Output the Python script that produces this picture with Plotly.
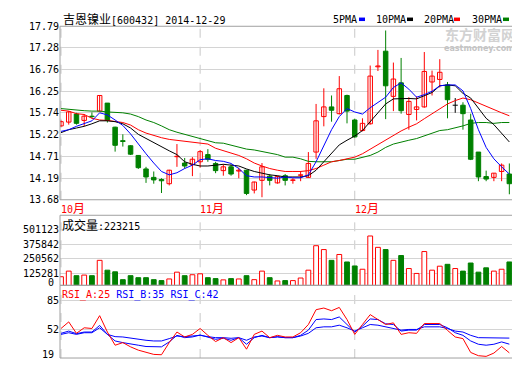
import plotly.graph_objects as go

# ---------------- data ----------------
stock_name = "吉恩镍业"
stock_code = "600432"
last_date = "2014-12-29"

day_index = list(range(59))
opens = [15.43, 15.52, 15.71, 15.56, 15.66, 15.78, 15.97, 15.40, 15.08, 14.96,
         14.73, 14.41, 14.21, 14.16, 14.06, 14.70, 14.55, 14.51, 14.58, 14.75,
         14.54, 14.37, 14.46, 14.36, 14.38, 13.91, 14.14, 14.24, 14.08, 14.25,
         14.14, 14.26, 14.21, 14.81, 15.65, 15.88, 15.72, 16.15, 15.57, 15.32,
         15.48, 16.83, 17.20, 16.13, 16.45, 15.70, 15.82, 15.88, 16.47, 16.53,
         16.40, 15.92, 15.92, 15.57, 14.81, 14.23, 14.21, 14.35, 14.29]
highs = [15.56, 15.78, 15.74, 15.71, 15.75, 16.16, 15.97, 15.41, 15.23, 14.97,
         14.74, 14.46, 14.35, 14.19, 14.39, 15.00, 14.67, 14.69, 14.86, 14.88,
         14.58, 14.52, 14.52, 14.44, 14.39, 14.11, 14.55, 14.29, 14.25, 14.29,
         14.19, 14.36, 14.81, 15.95, 16.32, 16.15, 16.61, 16.17, 15.60, 15.61,
         16.86, 17.23, 17.69, 16.93, 17.04, 16.11, 16.13, 17.18, 16.74, 17.01,
         16.47, 16.09, 15.99, 15.72, 14.81, 14.37, 14.31, 14.54, 14.54]
lows = [15.41, 15.46, 15.46, 15.42, 15.61, 15.77, 15.51, 14.82, 14.94, 14.74,
        14.41, 14.08, 14.06, 13.84, 14.02, 14.46, 14.42, 14.24, 14.44, 14.58,
        14.31, 14.25, 14.25, 14.19, 13.79, 13.83, 13.74, 14.02, 14.06, 14.02,
        14.06, 14.12, 14.20, 14.65, 15.42, 15.53, 15.70, 15.49, 15.15, 15.30,
        15.46, 16.73, 15.59, 15.78, 15.72, 15.34, 15.56, 15.86, 16.15, 16.34,
        15.61, 15.74, 15.34, 14.62, 14.12, 14.12, 14.12, 14.12, 13.81]
closes = [15.53, 15.76, 15.49, 15.66, 15.65, 16.15, 15.56, 14.97, 15.06, 14.76,
          14.44, 14.22, 14.15, 14.13, 14.38, 14.71, 14.48, 14.64, 14.82, 14.64,
          14.37, 14.46, 14.29, 14.38, 13.83, 14.10, 14.46, 14.14, 14.23, 14.14,
          14.15, 14.27, 14.54, 15.55, 15.88, 15.80, 16.31, 15.78, 15.17, 15.49,
          16.61, 16.85, 16.38, 16.54, 15.79, 16.01, 15.88, 16.72, 16.61, 16.70,
          16.05, 15.92, 15.72, 14.64, 14.22, 14.17, 14.31, 14.50, 14.06]

ma5 = [15.30, 15.34, 15.42, 15.48, 15.55, 15.74, 15.69, 15.57, 15.44, 15.24,
       15.00, 14.77, 14.55, 14.35, 14.27, 14.32, 14.42, 14.50, 14.63, 14.65,
       14.61, 14.59, 14.54, 14.42, 14.25, 14.22, 14.22, 14.21, 14.19, 14.22,
       14.20, 14.20, 14.27, 14.58, 14.96, 15.34, 15.65, 15.84, 15.76, 15.71,
       15.86, 15.99, 16.11, 16.34, 16.45, 16.30, 16.11, 16.17, 16.25, 16.38,
       16.40, 16.40, 16.26, 15.84, 15.34, 14.92, 14.65, 14.46, 14.29]
ma10 = [15.27, 15.34, 15.38, 15.42, 15.48, 15.55, 15.55, 15.53, 15.48, 15.38,
        15.23, 15.13, 15.02, 14.92, 14.84, 14.75, 14.58, 14.52, 14.48, 14.48,
        14.50, 14.52, 14.50, 14.48, 14.41, 14.35, 14.31, 14.27, 14.25, 14.22,
        14.22, 14.22, 14.25, 14.38, 14.58, 14.77, 14.98, 15.09, 15.19, 15.32,
        15.53, 15.76, 15.95, 16.07, 16.08, 16.08, 16.07, 16.15, 16.22, 16.38,
        16.40, 16.38, 16.20, 16.09, 15.84, 15.61, 15.46, 15.26, 15.05]
ma20 = [15.80, 15.78, 15.72, 15.70, 15.61, 15.57, 15.56, 15.53, 15.51, 15.45,
        15.34, 15.26, 15.20, 15.15, 15.11, 15.09, 15.07, 15.05, 15.02, 15.00,
        14.90, 14.84, 14.78, 14.73, 14.65, 14.55, 14.48, 14.42, 14.38, 14.35,
        14.35, 14.35, 14.37, 14.42, 14.50, 14.58, 14.61, 14.65, 14.69, 14.77,
        14.88, 15.00, 15.10, 15.21, 15.31, 15.40, 15.48, 15.60, 15.72, 15.85,
        15.95, 16.03, 16.09, 16.05, 15.97, 15.90, 15.81, 15.74, 15.67]
ma30 = [15.84, 15.82, 15.80, 15.79, 15.78, 15.78, 15.76, 15.75, 15.74, 15.71,
        15.65, 15.57, 15.51, 15.43, 15.34, 15.28, 15.23, 15.19, 15.13, 15.09,
        15.03, 15.02, 14.97, 14.92, 14.88, 14.86, 14.82, 14.79, 14.75, 14.69,
        14.69, 14.65, 14.59, 14.58, 14.58, 14.58, 14.61, 14.64, 14.64, 14.68,
        14.73, 14.81, 14.92, 15.00, 15.05, 15.09, 15.13, 15.19, 15.25, 15.32,
        15.34, 15.38, 15.43, 15.49, 15.51, 15.51, 15.49, 15.51, 15.51]

volume = [97000, 145000, 106000, 111000, 106000, 237000, 153000, 139000, 72000, 106000,
          89000, 89000, 72000, 64000, 78000, 136000, 106000, 114000, 122000, 89000,
          81000, 70000, 81000, 78000, 106000, 72000, 145000, 89000, 61000, 64000,
          64000, 86000, 153000, 362000, 329000, 237000, 287000, 223000, 189000, 161000,
          445000, 348000, 329000, 237000, 278000, 167000, 125000, 312000, 153000, 187000,
          203000, 167000, 145000, 214000, 136000, 173000, 145000, 161000, 223215]

rsi_a = [53.1, 60.7, 47.5, 53.9, 53.1, 67.9, 49.0, 33.8, 36.8, 31.9,
         28.1, 25.4, 23.2, 22.8, 36.8, 49.0, 43.3, 46.3, 53.1, 45.2,
         38.0, 42.5, 36.8, 42.5, 29.2, 46.3, 50.1, 42.5, 45.2, 43.3,
         43.3, 48.2, 57.7, 74.8, 76.7, 73.6, 77.4, 63.4, 46.3, 57.7,
         69.1, 63.4, 57.7, 59.6, 46.3, 48.2, 47.5, 58.8, 58.5, 58.8,
         50.9, 43.3, 41.4, 25.4, 21.7, 20.9, 24.7, 32.3, 25.0]
rsi_b = [47.5, 50.1, 47.1, 49.0, 49.0, 56.6, 46.3, 38.7, 36.8, 34.9,
         33.8, 32.3, 31.9, 31.9, 37.6, 45.2, 42.5, 43.3, 45.6, 43.3,
         40.6, 41.8, 39.5, 42.5, 34.9, 42.5, 45.2, 42.5, 43.7, 42.5,
         42.5, 45.2, 51.2, 63.4, 64.1, 63.4, 66.4, 57.7, 49.0, 55.8,
         64.1, 63.4, 58.5, 57.7, 50.1, 51.2, 51.2, 57.7, 57.7, 57.7,
         53.9, 48.2, 45.2, 38.7, 34.9, 33.8, 34.9, 37.6, 35.0]
rsi_c = [46.3, 48.2, 46.3, 48.2, 48.2, 53.9, 46.3, 43.7, 43.3, 41.8,
         40.6, 39.5, 38.7, 38.7, 41.4, 44.4, 43.7, 44.4, 45.2, 43.7,
         42.5, 42.5, 41.8, 42.5, 39.5, 43.3, 44.4, 42.5, 43.3, 42.5,
         42.5, 44.4, 47.5, 53.9, 55.0, 55.0, 56.9, 53.9, 50.1, 53.9,
         57.7, 56.9, 55.0, 53.9, 51.2, 52.0, 52.0, 55.0, 55.0, 55.0,
         53.1, 50.1, 49.0, 45.2, 42.5, 42.5, 42.5, 42.5, 42.0]

month_labels = ["10月", "11月", "12月"]
month_index = [0, 18, 38]
price_ticks = [13.68, 14.19, 14.71, 15.22, 15.74, 16.25, 16.76, 17.28, 17.79]
volume_ticks = [0, 125281, 250562, 375842, 501123]
rsi_ticks = [19, 52, 85]
ma_names = ["5PMA", "10PMA", "20PMA", "30PMA"]

# ---------------- layout constants (page pixels) ----------------
OFF = 8                     # default page margin the browser puts around the figure
W, H = 520 - OFF, 365 - OFF  # figure size so that it fits the window exactly
XL, XR = 60, 519
MAIN_T, MAIN_B = 21.7, 200.7
VOL_T, VOL_B = 216.7, 289.0
RSI_T, RSI_B = 289.0, 364.0
VOL_HI_PX, VOL_LO_PX = 231.3, 276.7     # pixel rows of the 501123 / 125281 lines
RSI_HI_PX, RSI_LO_PX = 305.0, 364.0     # pixel rows of 85 / 19

RED, GREEN, BLUE, BLACK = "#FF0000", "#008000", "#0000FF", "#000000"
GRID = "#D4D4D4"
BORDER = "#A0A0A0"
MONO = "DejaVu Sans Mono"
CJK = "Noto Sans CJK SC"


def PX(x):
    return (x - OFF) / W


def PY(y):
    return 1 - (y - OFF) / H


fig = go.Figure()

n = len(closes)
kind = []
for o, c in zip(opens, closes):
    if c > o + 0.004:
        kind.append("up")
    elif c < o - 0.004:
        kind.append("down")
    else:
        kind.append("flat")
col_of = {"up": RED, "down": GREEN, "flat": BLACK}

# wicks
for k in ["up", "down", "flat"]:
    xs, ys = [], []
    for i in range(n):
        if kind[i] != k:
            continue
        xs += [day_index[i], day_index[i], None]
        ys += [lows[i], highs[i], None]
        if k == "flat":
            xs += [day_index[i] - 0.33, day_index[i] + 0.33, None]
            ys += [opens[i], opens[i], None]
    if xs:
        fig.add_trace(go.Scatter(x=xs, y=ys, mode="lines", line=dict(color=col_of[k], width=1),
                                 hoverinfo="skip", xaxis="x", yaxis="y"))

# bodies
up_i = [i for i in range(n) if kind[i] == "up"]
dn_i = [i for i in range(n) if kind[i] == "down"]
fig.add_trace(go.Bar(x=[day_index[i] for i in up_i], base=[opens[i] for i in up_i],
                     y=[closes[i] - opens[i] for i in up_i], width=0.58,
                     marker=dict(color="white", line=dict(color=RED, width=1)),
                     hoverinfo="skip", xaxis="x", yaxis="y"))
fig.add_trace(go.Bar(x=[day_index[i] for i in dn_i], base=[closes[i] for i in dn_i],
                     y=[opens[i] - closes[i] for i in dn_i], width=0.58,
                     marker=dict(color=GREEN, line=dict(color=GREEN, width=1)),
                     hoverinfo="skip", xaxis="x", yaxis="y"))

# moving averages
for series, color in [(ma30, GREEN), (ma20, RED), (ma10, BLACK), (ma5, BLUE)]:
    fig.add_trace(go.Scatter(x=day_index, y=series, mode="lines", line=dict(color=color, width=1),
                             hoverinfo="skip", xaxis="x", yaxis="y"))

# volume
vcol = [GREEN if kind[i] == "down" else RED for i in range(n)]
vfill = [GREEN if kind[i] == "down" else "white" for i in range(n)]
fig.add_trace(go.Bar(x=day_index, y=volume, width=0.62,
                     marker=dict(color=vfill, line=dict(color=vcol, width=1)),
                     hoverinfo="skip", xaxis="x", yaxis="y2"))

# RSI
for series, color in [(rsi_c, BLUE), (rsi_b, BLUE), (rsi_a, RED)]:
    fig.add_trace(go.Scatter(x=day_index, y=series, mode="lines", line=dict(color=color, width=1),
                             hoverinfo="skip", xaxis="x", yaxis="y3"))

# axis ranges from pixel calibration
vslope = (volume_ticks[4] - volume_ticks[1]) / (VOL_LO_PX - VOL_HI_PX)
vol_range = [volume_ticks[1] - (VOL_B - VOL_LO_PX) * vslope,
             volume_ticks[4] + (VOL_HI_PX - VOL_T) * vslope]
rslope = (rsi_ticks[2] - rsi_ticks[0]) / (RSI_LO_PX - RSI_HI_PX)
rsi_range = [rsi_ticks[0] - (RSI_B - RSI_LO_PX) * rslope,
             rsi_ticks[2] + (RSI_HI_PX - RSI_T) * rslope]

tickfont = dict(family=MONO, size=10, color=BLACK)
common_y = dict(showgrid=True, gridcolor=GRID, gridwidth=1, zeroline=False, showline=False,
                ticks="", tickfont=tickfont, fixedrange=True, anchor="x")

fig.update_layout(
    width=W, height=H, margin=dict(l=0, r=0, t=0, b=0),
    paper_bgcolor="white", plot_bgcolor="white", showlegend=False,
    barmode="overlay", bargap=0, hovermode=False,
    xaxis=dict(domain=[PX(XL), PX(XR)], range=[-0.13, 59.25], showgrid=False, zeroline=False,
               showticklabels=False, showline=False, fixedrange=True, anchor="y"),
    yaxis=dict(domain=[PY(MAIN_B), PY(MAIN_T)], range=[price_ticks[0], price_ticks[-1]],
               tickvals=price_ticks, ticktext=[f"{v:.2f}" for v in price_ticks], **common_y),
    yaxis2=dict(domain=[PY(VOL_B), PY(VOL_T)], range=vol_range,
                tickvals=volume_ticks[1:], ticktext=[str(v) for v in volume_ticks[1:]], **common_y),
    yaxis3=dict(domain=[PY(RSI_B), PY(RSI_T)], range=rsi_range,
                tickvals=rsi_ticks[1:], ticktext=[str(v) for v in rsi_ticks[1:]], **common_y),
)

shapes = []
# vertical dashed month lines
for m in month_index:
    for top, bot in [(MAIN_T, MAIN_B), (VOL_T, VOL_B), (RSI_T, RSI_B)]:
        shapes.append(dict(type="line", xref="x", yref="paper", x0=m, x1=m, y0=PY(bot), y1=PY(top),
                           line=dict(color="#C8C8C8", width=1, dash="dash"), layer="below"))
# panel borders
for top, bot in [(MAIN_T, MAIN_B), (VOL_T, VOL_B), (RSI_T, RSI_B)]:
    shapes.append(dict(type="rect", xref="paper", yref="paper", x0=PX(XL), x1=PX(XR),
                       y0=PY(bot), y1=PY(top), line=dict(color=BORDER, width=1),
                       fillcolor="rgba(0,0,0,0)", layer="above"))

ann = []
# title
ann.append(dict(xref="paper", yref="paper", x=PX(61), y=PY(13.5), xanchor="left", yanchor="middle",
                showarrow=False, font=dict(family=MONO, size=10, color=BLACK),
                text=f'<span style="font-family:{CJK};font-size:12px">{stock_name}</span>[{stock_code}] {last_date}'))
# MA legend
leg_text_x = [331, 374, 422, 470]
leg_mark_x = [359, 407, 454, 503]
leg_cols = [BLUE, BLACK, RED, GREEN]
for name, tx, mx, c in zip(ma_names, leg_text_x, leg_mark_x, leg_cols):
    ann.append(dict(xref="paper", yref="paper", x=PX(tx), y=PY(14.5), xanchor="left", yanchor="middle",
                    showarrow=False, font=dict(family=MONO, size=10, color=BLACK), text=name))
    shapes.append(dict(type="rect", xref="paper", yref="paper", x0=PX(mx), x1=PX(mx + 6),
                       y0=PY(16.3), y1=PY(12.7), line=dict(width=0), fillcolor=c))
# watermark
ann.append(dict(xref="paper", yref="paper", x=PX(480), y=PY(30), xanchor="center", yanchor="middle",
                showarrow=False, font=dict(family=CJK, size=14, color="#D2D2D2"), text="<b>东方财富网</b>"))
ann.append(dict(xref="paper", yref="paper", x=PX(479), y=PY(44.5), xanchor="center", yanchor="middle",
                showarrow=False, font=dict(family="DejaVu Sans", size=8, color="#C4C4C4"), text="<b>eastmoney.com</b>"))
# month labels
for m, lab in zip(month_index, month_labels):
    ann.append(dict(xref="x", yref="paper", x=m, y=PY(209), xanchor="left", yanchor="middle", xshift=-2,
                    showarrow=False, font=dict(family=MONO, size=10, color=RED),
                    text=f'{lab[:-1]}<span style="font-family:{CJK};font-size:12px">{lab[-1]}</span>'))
# volume header and clamped zero label
ann.append(dict(xref="paper", yref="paper", x=PX(60), y=PY(226), xanchor="left", yanchor="middle",
                showarrow=False, font=dict(family=MONO, size=10, color=BLACK),
                text=f'<span style="font-family:{CJK};font-size:12px">成交量</span>:{volume[-1]}'))
ann.append(dict(xref="paper", yref="paper", x=PX(56), y=PY(286.5), xanchor="right", yanchor="middle",
                showarrow=False, font=tickfont, text=str(volume_ticks[0])))
# RSI header and clamped bottom label
ann.append(dict(xref="paper", yref="paper", x=PX(60), y=PY(299), xanchor="left", yanchor="middle",
                showarrow=False, font=dict(family=MONO, size=10, color=BLACK),
                text=(f'<span style="color:{RED}">RSI_A:{rsi_a[-1]:.0f}</span> '
                      f'<span style="color:{BLUE}">RSI_B:{rsi_b[-1]:.0f}</span> '
                      f'<span style="color:{BLUE}">RSI_C:{rsi_c[-1]:.0f}</span>')))
ann.append(dict(xref="paper", yref="paper", x=PX(56), y=PY(360.5), xanchor="right", yanchor="middle",
                showarrow=False, font=tickfont, text=str(rsi_ticks[0])))

fig.update_layout(shapes=shapes, annotations=ann)
fig.write_html("out.html", config={"displayModeBar": False, "staticPlot": True})
